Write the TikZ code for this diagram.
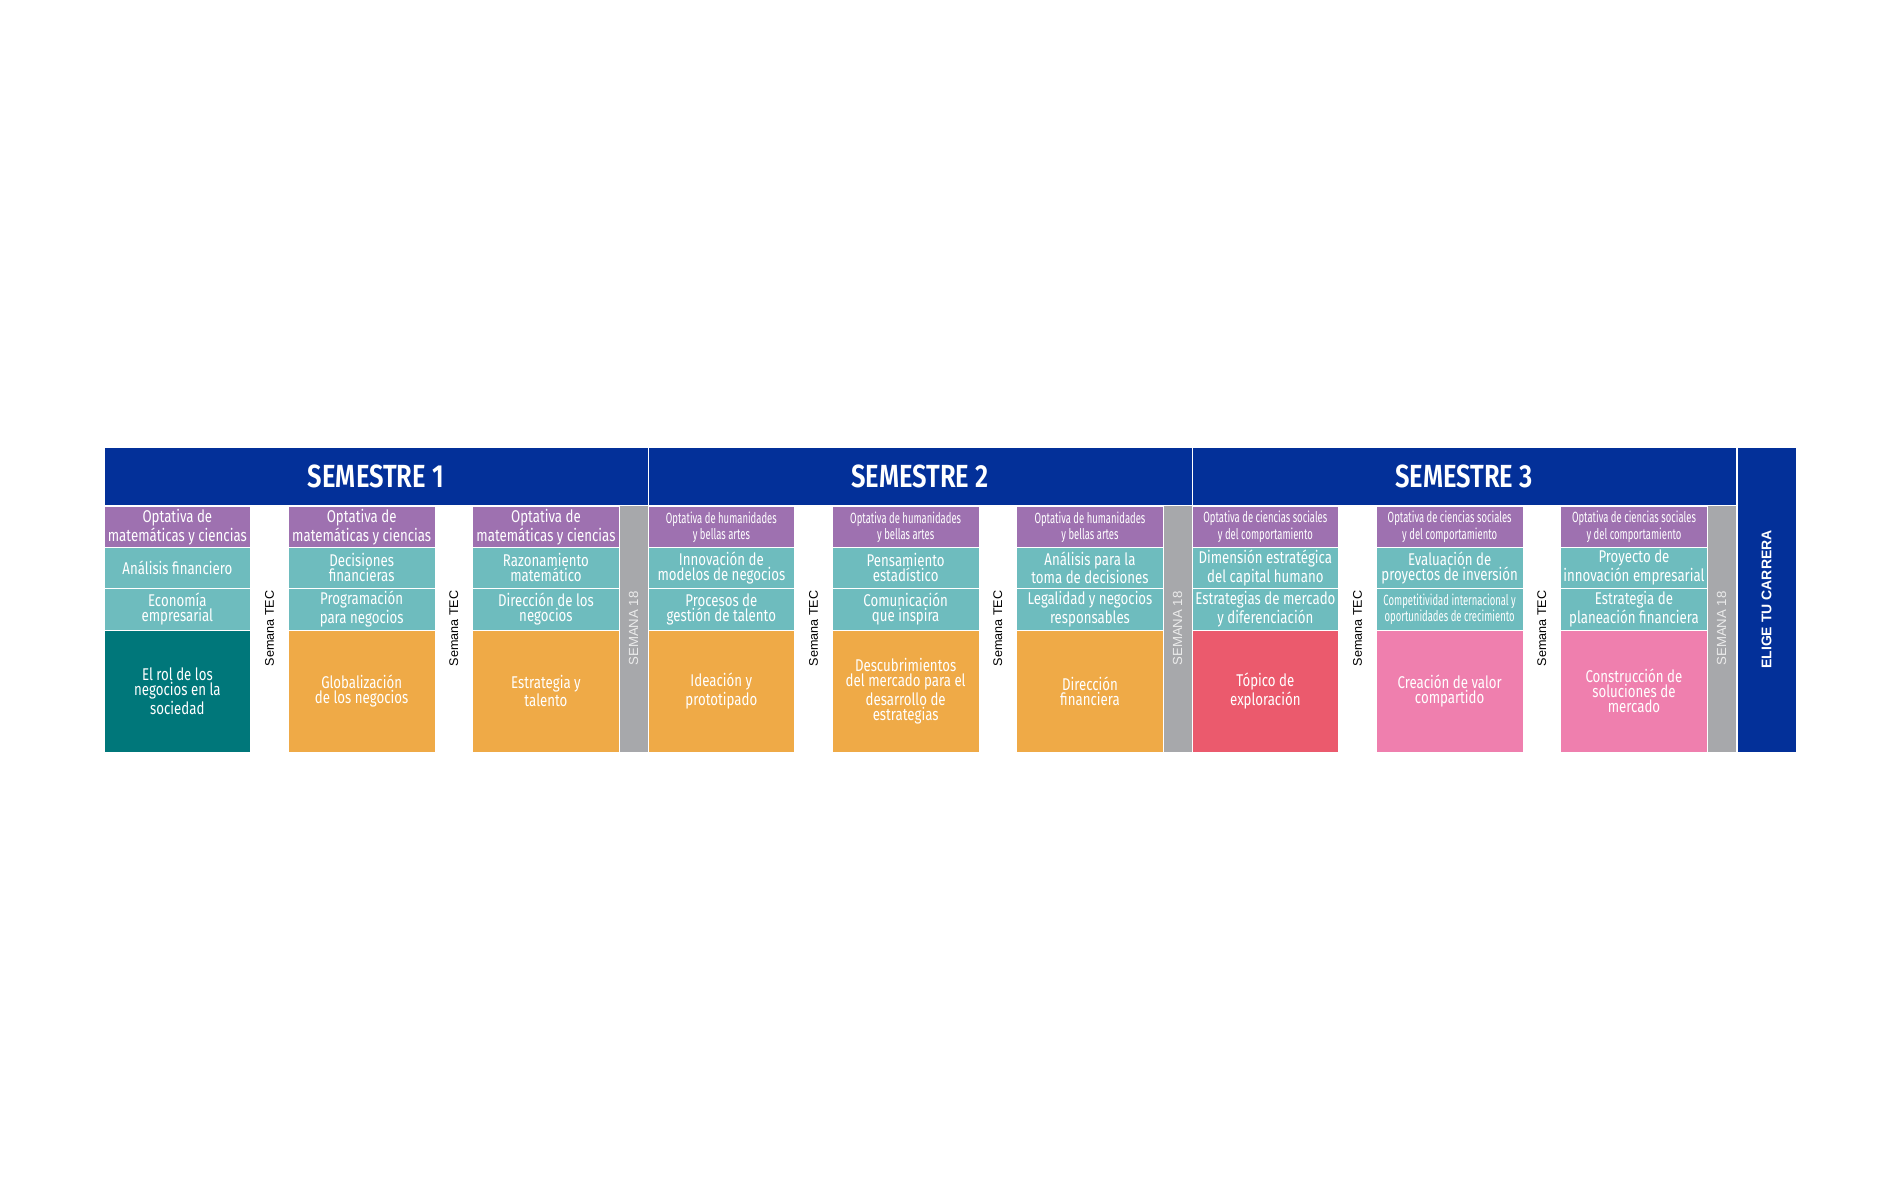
\documentclass[tikz,border=0pt]{standalone}
\usepackage{fontspec}
\newfontfamily\bodyfont{Fira Sans}[FakeStretch=0.78]
\newfontfamily\smallfont{Fira Sans}[FakeStretch=0.64]
\newfontfamily\headfont{Fira Sans SemiBold}[FakeStretch=0.8]
\newfontfamily\arialfont{Liberation Sans}
\definecolor{tecblue}{RGB}{3,48,153}
\definecolor{optpurple}{RGB}{158,113,176}
\definecolor{crsteal}{RGB}{110,188,190}
\definecolor{darkteal}{RGB}{0,119,122}
\definecolor{orangebox}{RGB}{239,170,71}
\definecolor{redbox}{RGB}{235,90,109}
\definecolor{pinkbox}{RGB}{239,127,174}
\definecolor{weekgray}{RGB}{167,168,171}
\begin{document}
\begin{tikzpicture}[x = 0.5pt, y = -0.5pt,
    cell/.style = {inner sep = 0pt, align = center, text = white, draw = white, line width = 0.5pt,
        minimum width = 73.35pt, font = \bodyfont\fontsize{8.5}{7.6}\selectfont},
    optbox/.style = {cell, fill = optpurple, minimum height = 21pt},
    smalltext/.style = {font = \smallfont\fontsize{7.4}{6.7}\selectfont},
    crsbox/.style = {cell, fill = crsteal, minimum height = 20.75pt},
    bigbox/.style = {cell, minimum height = 61pt},
    semhead/.style = {fill = tecblue, draw = white, line width = 0.5pt, minimum width = 272pt,
        minimum height = 29pt, inner sep = 0pt, text = white, font = \headfont\fontsize{16}{16}\selectfont},
    tecweek/.style = {rotate = 90, inner sep = 0pt, font = \arialfont\fontsize{6.3}{7}\selectfont},
    weekbox/.style = {rotate = 90, fill = weekgray, draw = white, line width = 0.5pt, inner sep = 0pt,
        minimum width = 123.5pt, minimum height = 14.35pt, text = white!92!black, font = \arialfont\fontsize{6.6}{7}\selectfont},
    careerbox/.style = {rotate = 90, fill = tecblue, draw = white, line width = 0.5pt, inner sep = 0pt,
        minimum width = 152.5pt, minimum height = 29.5pt, text = white, font = \arialfont\bfseries\fontsize{7}{7}\selectfont}]

    \fill[white] (0, 0) rectangle (1900, 1200);
    \useasboundingbox (0, 0) rectangle (1900, 1200);

    % semesters
    \node[semhead] (sem1) at (376, 476) {SEMESTRE 1};
    \node[semhead] (sem2) at (920, 476) {SEMESTRE 2};
    \node[semhead] (sem3) at (1464, 476) {SEMESTRE 3};
    \node[careerbox] (career) at (1766.5, 599.5) {ELIGE TU CARRERA};

    % semester 1
    \node[optbox] (o11) at (177.35, 527) {Optativa de\\matemáticas y ciencias};
    \node[crsbox] (a11) at (177.35, 567.75) {Análisis financiero};
    \node[crsbox] (b11) at (177.35, 609.25) {Economía\\empresarial};
    \node[bigbox, fill = darkteal] (c11) at (177.35, 691) {El rol de los\\negocios en la\\sociedad};

    \node[optbox] (o12) at (361.65, 527) {Optativa de\\matemáticas y ciencias};
    \node[crsbox] (a12) at (361.65, 567.75) {Decisiones\\financieras};
    \node[crsbox] (b12) at (361.65, 609.25) {Programación\\para negocios};
    \node[bigbox, fill = orangebox] (c12) at (361.65, 691) {Globalización\\de los negocios};

    \node[optbox] (o13) at (545.95, 527) {Optativa de\\matemáticas y ciencias};
    \node[crsbox] (a13) at (545.95, 567.75) {Razonamiento\\matemático};
    \node[crsbox] (b13) at (545.95, 609.25) {Dirección de los\\negocios};
    \node[bigbox, fill = orangebox] (c13) at (545.95, 691) {Estrategia y\\talento};

    % semester 2
    \node[optbox, smalltext] (o21) at (721.35, 527) {Optativa de humanidades\\y bellas artes};
    \node[crsbox] (a21) at (721.35, 567.75) {Innovación de\\modelos de negocios};
    \node[crsbox] (b21) at (721.35, 609.25) {Procesos de\\gestión de talento};
    \node[bigbox, fill = orangebox] (c21) at (721.35, 691) {Ideación y\\prototipado};

    \node[optbox, smalltext] (o22) at (905.65, 527) {Optativa de humanidades\\y bellas artes};
    \node[crsbox] (a22) at (905.65, 567.75) {Pensamiento\\estadístico};
    \node[crsbox] (b22) at (905.65, 609.25) {Comunicación\\que inspira};
    \node[bigbox, fill = orangebox] (c22) at (905.65, 691) {Descubrimientos\\del mercado para el\\desarrollo de\\estrategias};

    \node[optbox, smalltext] (o23) at (1089.95, 527) {Optativa de humanidades\\y bellas artes};
    \node[crsbox] (a23) at (1089.95, 567.75) {Análisis para la\\toma de decisiones};
    \node[crsbox] (b23) at (1089.95, 609.25) {Legalidad y negocios\\responsables};
    \node[bigbox, fill = orangebox] (c23) at (1089.95, 691) {Dirección\\financiera};

    % semester 3
    \node[optbox, smalltext] (o31) at (1265.35, 527) {Optativa de ciencias sociales\\y del comportamiento};
    \node[crsbox] (a31) at (1265.35, 567.75) {Dimensión estratégica\\del capital humano};
    \node[crsbox] (b31) at (1265.35, 609.25) {Estrategias de mercado\\y diferenciación};
    \node[bigbox, fill = redbox] (c31) at (1265.35, 691) {Tópico de\\exploración};

    \node[optbox, smalltext] (o32) at (1449.65, 527) {Optativa de ciencias sociales\\y del comportamiento};
    \node[crsbox] (a32) at (1449.65, 567.75) {Evaluación de\\proyectos de inversión};
    \node[crsbox, smalltext] (b32) at (1449.65, 609.25) {Competitividad internacional y\\oportunidades de crecimiento};
    \node[bigbox, fill = pinkbox] (c32) at (1449.65, 691) {Creación de valor\\compartido};

    \node[optbox, smalltext] (o33) at (1633.95, 527) {Optativa de ciencias sociales\\y del comportamiento};
    \node[crsbox] (a33) at (1633.95, 567.75) {Proyecto de\\innovación empresarial};
    \node[crsbox] (b33) at (1633.95, 609.25) {Estrategia de\\planeación financiera};
    \node[bigbox, fill = pinkbox] (c33) at (1633.95, 691) {Construcción de\\soluciones de\\mercado};

    % weeks
    \foreach \x [count = \i] in {269.5, 453.8, 813.5, 997.8, 1357.5, 1541.8}
        \node[tecweek] (tec\i) at (\x, 628.5) {Semana TEC};
    \foreach \x [count = \i] in {633.65, 1177.65, 1721.65}
        \node[weekbox] (week\i) at (\x, 628.5) {SEMANA 18};
\end{tikzpicture}
\end{document}
